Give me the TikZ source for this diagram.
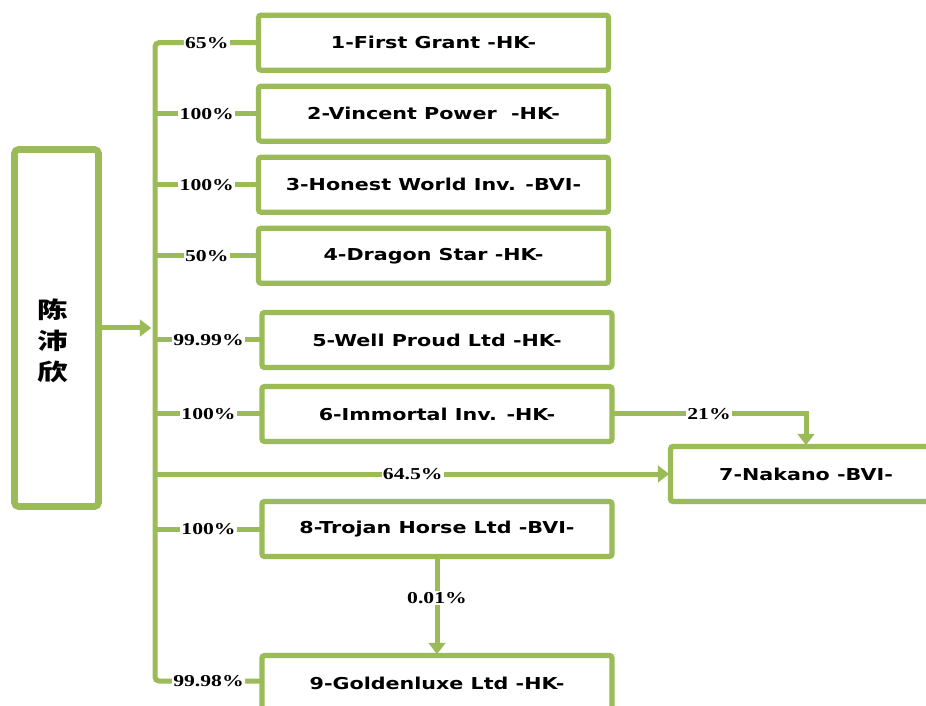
\documentclass[tikz,border=0pt]{standalone}
\usepackage{fontspec}
\usepackage{xcolor}
\usepackage{tikz}
\usetikzlibrary{arrows.meta, positioning}
\newfontfamily\boxfont[FakeStretch=1.26]{DejaVu Sans}
\newfontfamily\pctfont[FakeStretch=1.3]{Liberation Serif}
\newfontfamily\cjk[FakeStretch=1.35]{Noto Sans CJK SC}
\definecolor{ogreen}{HTML}{9BBB59}

\begin{document}
\begin{tikzpicture}[
  x=0.75pt, y=-0.75pt,
  node distance=12pt,
  firm/.style={rectangle, draw=ogreen, line width=4pt, rounded corners=2pt,
    outer sep=0pt, minimum width=262.5pt, minimum height=41.25pt,
    font=\boxfont\bfseries\fontsize{12.3}{14}\selectfont},
  owner/.style={rectangle, draw=ogreen, line width=5pt, rounded corners=3pt,
    outer sep=0pt, minimum width=63pt, minimum height=267.75pt},
  ownername/.style={align=center, font=\cjk\bfseries\fontsize{17}{23.25}\selectfont},
  pct/.style={fill=white, inner xsep=1pt, inner ysep=1pt,
    font=\pctfont\bfseries\fontsize{12.5}{14}\selectfont},
  link/.style={draw=ogreen, line width=3.75pt},
  arr/.style={link, -{Triangle[length=8.5pt, width=12.5pt]}, shorten >=1pt},
]
  \useasboundingbox (0,0) rectangle (926,706);
  \clip (0,0) rectangle (926,706);

  % owner
  \node[owner] (p) at (56.5,328) {};
  \node[ownername] (pname) at (53,341) {陈\\沛\\欣};

  % companies
  \node[firm] (b1) at (433.5,42.7) {1-First Grant -HK-};
  \node[firm, below=of b1] (b2) {2-Vincent Power~ -HK-};
  \node[firm, below=of b2] (b3) {3-Honest World Inv. -BVI-};
  \node[firm, below=of b3] (b4) {4-Dragon Star -HK-};
  \node[firm] (b5) at (437,340) {5-Well Proud Ltd -HK-};
  \node[firm] (b6) at (437,414) {6-Immortal Inv. -HK-};
  \node[firm, minimum width=203.25pt] (b7) at (806,474) {7-Nakano -BVI-};
  \node[firm] (b8) at (437,529) {8-Trojan Horse Ltd -BVI-};
  \node[firm] (b9) at (437,683) {9-Goldenluxe Ltd -HK-};

  % trunk
  \coordinate (top) at (155,42.7);
  \coordinate (bot) at (155,681);
  \coordinate (hit) at (152.5,328);
  \draw[link, rounded corners=3pt] (b1.west) -- node[pct]{65\%} (top) -- (bot)
    -- node[pct]{99.98\%} (b9.west |- bot);
  \draw[arr] (p.east) -- (hit);

  \foreach \b/\v in {b2/100, b3/100, b4/50, b5/99.99, b6/100, b8/100}
    \draw[link] (top |- \b.west) -- node[pct]{\v\%} (\b.west);

  \draw[arr] (top |- b7.west) -- node[pct]{64.5\%} (b7.west);
  \draw[arr] (b6.east) -| node[pct, pos=0.25]{21\%} (b7.north);
  \draw[arr] (b8.south) -- node[pct, pos=0.42]{0.01\%} (b9.north);
\end{tikzpicture}
\end{document}
